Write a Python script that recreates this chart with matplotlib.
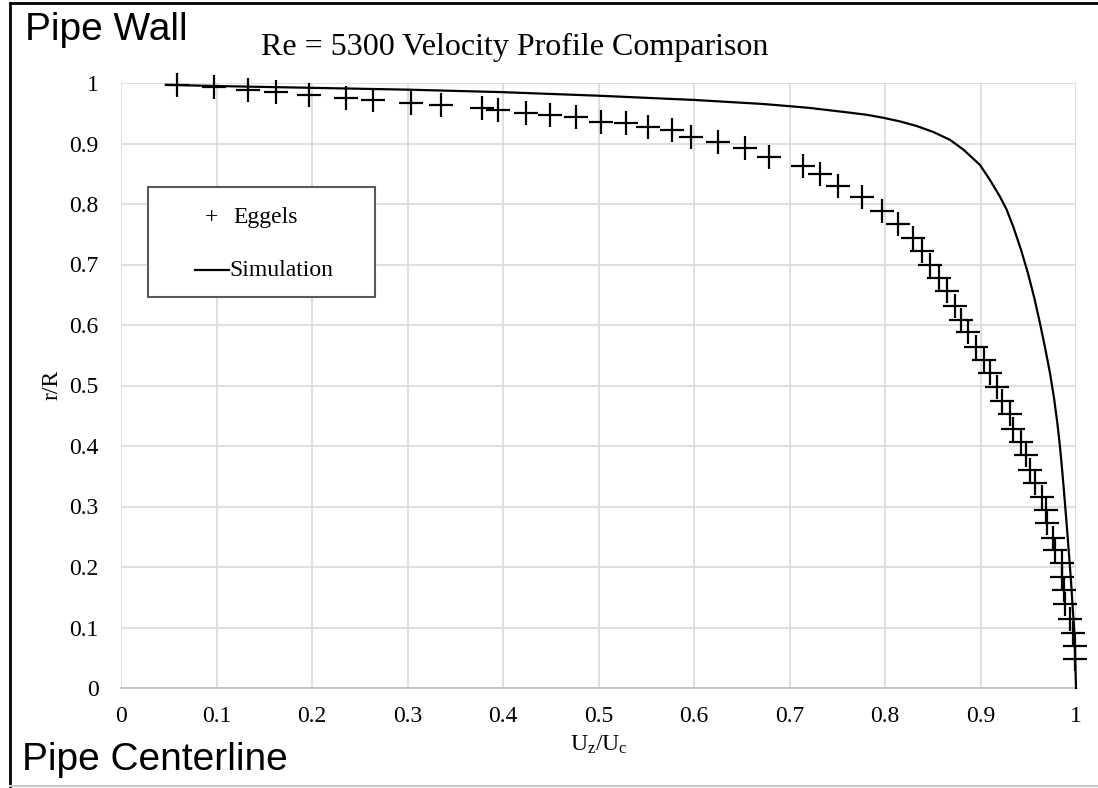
import numpy as np
import matplotlib
matplotlib.use("Agg")
import matplotlib.pyplot as plt
from matplotlib.patches import Rectangle
from matplotlib.lines import Line2D

plt.rcParams["font.family"] = ["Liberation Serif", "DejaVu Serif"]
plt.rcParams["mathtext.default"] = "regular"

# Eggels DNS data, Re = 5300
eggels_u = [0.059, 0.0974, 0.1327, 0.1623, 0.1972, 0.2353, 0.2642, 0.3034, 0.3348, 0.3777,
            0.3948, 0.4238, 0.4492, 0.4768, 0.5023, 0.5285, 0.5518, 0.5766, 0.5965, 0.6248,
            0.6537, 0.6782, 0.7138, 0.7319, 0.7511, 0.7756, 0.7965, 0.8139, 0.8291, 0.8387,
            0.8474, 0.8562, 0.8649, 0.8733, 0.8796, 0.8869, 0.8955, 0.9039, 0.9103, 0.9170,
            0.9228, 0.9312, 0.9340, 0.9421, 0.9474, 0.9522, 0.9567, 0.9641, 0.9683, 0.9696,
            0.9754, 0.9783, 0.9850, 0.9856, 0.9874, 0.9882, 0.9937, 0.9969, 0.9990, 0.9993]
eggels_r = [0.9967, 0.9940, 0.9884, 0.9846, 0.9807, 0.9757, 0.9719, 0.9674, 0.9631, 0.9592,
            0.9554, 0.9509, 0.9471, 0.9433, 0.9361, 0.9333, 0.9267, 0.9223, 0.9102, 0.9030,
            0.8931, 0.8782, 0.8628, 0.8496, 0.8298, 0.8121, 0.7889, 0.7664, 0.7433, 0.7223,
            0.6992, 0.6772, 0.6567, 0.6319, 0.6083, 0.5879, 0.5641, 0.5421, 0.5202, 0.4980,
            0.4744, 0.4529, 0.4281, 0.4061, 0.3851, 0.3603, 0.3383, 0.3162, 0.2942, 0.2732,
            0.2474, 0.2281, 0.2071, 0.1830, 0.1620, 0.1388, 0.1140, 0.0904, 0.0694, 0.0479]

# simulation profile
sim_u = [0.047, 0.10, 0.20, 0.30, 0.397, 0.50, 0.60, 0.6726, 0.7200, 0.7634, 0.7808, 0.7982,
         0.8157, 0.8332, 0.8506, 0.8681, 0.8820, 0.8995, 0.9099, 0.9204, 0.9274, 0.9343,
         0.9425, 0.9497, 0.9563, 0.9623, 0.9678, 0.9728, 0.9770, 0.9805, 0.9832, 0.9855,
         0.9873, 0.9900, 0.9926, 0.9947, 0.9965, 0.9977, 0.9987, 1.0]
sim_r = [0.997, 0.995, 0.992, 0.989, 0.985, 0.979, 0.972, 0.9653, 0.9590, 0.9509, 0.9475,
         0.9425, 0.9365, 0.9289, 0.9190, 0.9060, 0.8900, 0.8645, 0.8397, 0.8121, 0.7906,
         0.7625, 0.7240, 0.6854, 0.6450, 0.6028, 0.5610, 0.5202, 0.4790, 0.4375, 0.3990,
         0.3603, 0.3273, 0.2750, 0.2226, 0.1780, 0.1344, 0.1050, 0.0793, 0.0]

ticks = np.round(np.arange(0, 1.01, 0.1), 1)
tick_labels = ["0"] + [f"{t:.1f}" for t in ticks[1:-1]] + ["1"]

W, H = 1098, 788
fig = plt.figure(figsize=(W / 100, H / 100), dpi=100)
ax = fig.add_axes([121 / W, 1 - 688 / H, 955 / W, 605 / H])

ax.plot(sim_u, sim_r, color="black", lw=1.6, zorder=3, clip_on=False)
ax.plot(eggels_u, eggels_r, ls="none", marker="+", ms=17, mew=1.6, color="black",
        zorder=4, clip_on=False)

ax.set_xlim(0, 1)
ax.set_ylim(0, 1)
ax.set_xticks(ticks)
ax.set_yticks(ticks)
ax.set_xticklabels(tick_labels)
ax.set_yticklabels(tick_labels)
ax.tick_params(length=0, labelsize=17)
ax.tick_params(axis="x", pad=13)
ax.tick_params(axis="y", pad=16)
ax.grid(True, color="#d9d9d9", lw=1.2)
ax.set_axisbelow(True)
for s in ["top", "right", "left"]:
    ax.spines[s].set_visible(False)
ax.spines["bottom"].set_color("#bfbfbf")
ax.spines["bottom"].set_linewidth(1.2)

fig.text(515 / W, 1 - 47 / H, "Re = 5300 Velocity Profile Comparison", fontsize=23,
         ha="center", va="center")
fig.text(599 / W, 1 - 745 / H, "U$_z$/U$_c$", fontsize=17, ha="center", va="center")
fig.text(52 / W, 1 - 385 / H, "r/R", fontsize=17, rotation=90, ha="center", va="center")

fig.text(25 / W, 1 - 30 / H, "Pipe Wall", fontsize=28, family="Liberation Sans",
         ha="left", va="center")
fig.text(22 / W, 1 - 760 / H, "Pipe Centerline", fontsize=28, family="Liberation Sans",
         ha="left", va="center")

# legend box
fig.patches.append(Rectangle((148 / W, 1 - 297 / H), 227 / W, 110 / H,
                             transform=fig.transFigure, fill=True, facecolor="white",
                             edgecolor="#595959", lw=1.5, zorder=5))
fig.text(211 / W, 1 - 218 / H, "+", fontsize=17, ha="center", va="center", zorder=6)
fig.text(233 / W, 1 - 218 / H, "Eggels", fontsize=17, ha="left", va="center", zorder=6)
fig.lines.append(Line2D([195 / W, 229 / W], [1 - 270 / H, 1 - 270 / H],
                        transform=fig.transFigure, color="black", lw=1.6, zorder=6))
fig.text(229 / W, 1 - 270 / H, "Simulation", fontsize=17, ha="left", va="center", zorder=6)

# border: black on top and left, light grey at the bottom
fig.lines.append(Line2D([10 / W, 10 / W], [0, 1 - 3 / H], transform=fig.transFigure,
                        color="black", lw=2))
fig.lines.append(Line2D([10 / W, 1], [1 - 3 / H, 1 - 3 / H], transform=fig.transFigure,
                        color="black", lw=2))
fig.lines.append(Line2D([10 / W, 1], [1 - 786 / H, 1 - 786 / H], transform=fig.transFigure,
                        color="#c8c8c8", lw=1.5))

fig.savefig("out.png", dpi=100)
